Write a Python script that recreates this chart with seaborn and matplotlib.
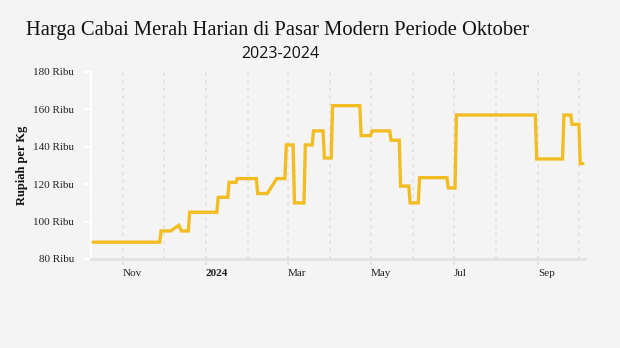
import matplotlib
matplotlib.use("Agg")
import matplotlib.pyplot as plt
import matplotlib.dates as mdates
import matplotlib.transforms as mtransforms
import seaborn as sns
import pandas as pd

# Breakpoints of the daily price series (thousand rupiah per kg)
dates = ["2023-10-10", "2023-11-28", "2023-11-29", "2023-12-06", "2023-12-12",
         "2023-12-14", "2023-12-19", "2023-12-20", "2024-01-09", "2024-01-10",
         "2024-01-17", "2024-01-18", "2024-01-23", "2024-01-24", "2024-02-07",
         "2024-02-08", "2024-02-15", "2024-02-22", "2024-02-28", "2024-02-29",
         "2024-03-05", "2024-03-06", "2024-03-13", "2024-03-14", "2024-03-19",
         "2024-03-20", "2024-03-27", "2024-03-28", "2024-04-02", "2024-04-03",
         "2024-04-23", "2024-04-24", "2024-05-01", "2024-05-02", "2024-05-15",
         "2024-05-16", "2024-05-22", "2024-05-23", "2024-05-29", "2024-05-30",
         "2024-06-05", "2024-06-06", "2024-06-26", "2024-06-27", "2024-07-02",
         "2024-07-03", "2024-08-30", "2024-08-31", "2024-09-19", "2024-09-20",
         "2024-09-25", "2024-09-26", "2024-10-01", "2024-10-02", "2024-10-04"]
prices = [89, 89, 95, 95, 98,
          95, 95, 105, 105, 113,
          113, 121, 121, 123, 123,
          115, 115, 123, 123, 141,
          141, 110, 110, 141, 141,
          148.5, 148.5, 134, 134, 162,
          162, 146, 146, 148.5, 148.5,
          143.5, 143.5, 119, 119, 110,
          110, 123.5, 123.5, 118, 118,
          157, 157, 133.5, 133.5, 157,
          157, 152, 152, 131, 131]

yticks = [80, 100, 120, 140, 160, 180]
ytick_labels = ["80 Ribu", "100 Ribu", "120 Ribu", "140 Ribu", "160 Ribu", "180 Ribu"]
xtick_dates = ["2023-11-01", "2024-01-01", "2024-03-01", "2024-05-01", "2024-07-01", "2024-09-01"]
xtick_labels = ["Nov", "2024", "Mar", "May", "Jul", "Sep"]
grid_months = pd.date_range("2023-11-01", "2024-10-01", freq="MS")

title_line1 = "Harga Cabai Merah Harian di Pasar Modern Periode Oktober"
title_line2 = "2023-2024"
ylabel = "Rupiah per Kg"

df = pd.DataFrame({"date": pd.to_datetime(dates), "price": prices})

bg = "#f4f4f4"
sns.set_theme(style="white")
plt.rcParams["font.family"] = ["Liberation Serif", "DejaVu Serif"]

fig = plt.figure(figsize=(6.2, 3.48), dpi=100, facecolor=bg)
ax = fig.add_axes([91/620, 1 - 259/348, (585 - 91)/620, (259 - 72)/348])
ax.set_facecolor(bg)

# grid lines at month starts
for d in grid_months:
    ax.axvline(d, color="#dedede", lw=1.1, ls=(0, (2, 3)), zorder=1)

sns.lineplot(data=df, x="date", y="price", ax=ax, color="#f2bd22",
             lw=2.4, zorder=3, solid_joinstyle="miter")

ax.set_ylim(80, 180)
ax.set_xlim(pd.Timestamp("2023-10-08 12:00"), pd.Timestamp("2024-10-05 12:00"))

ax.set_yticks(yticks)
ax.set_yticklabels(ytick_labels, fontsize=8, color="#222222")
ax.set_xticks(pd.to_datetime(xtick_dates))
ax.set_xticklabels(xtick_labels, fontsize=8, color="#222222")
for lbl in ax.get_xticklabels():
    lbl.set_ha("left")
    if lbl.get_text() == "2024":
        lbl.set_fontweight("bold")
offset = mtransforms.ScaledTranslation(3/100, 0, fig.dpi_scale_trans)
for lbl in ax.get_xticklabels():
    lbl.set_transform(lbl.get_transform() + offset)

ax.tick_params(axis="y", which="both", length=5, width=1.5, color="white", pad=7, left=True)
ax.tick_params(axis="x", which="both", length=4, width=1.1, color="#dcdcdc", pad=3, bottom=True)

for s in ["top", "right"]:
    ax.spines[s].set_visible(False)
ax.spines["left"].set_color("white")
ax.spines["left"].set_linewidth(1.5)
ax.spines["bottom"].set_color("#e2e2e2")
ax.spines["bottom"].set_linewidth(2)

ax.set_xlabel("")
ax.set_ylabel(ylabel, fontsize=9, fontweight="bold", color="#111111", labelpad=4)

fig.text(0.448, 1 - 30/348, title_line1, ha="center", va="center", fontsize=14.8,
         color="#111111", family=["Liberation Serif", "DejaVu Serif"])
fig.text(0.452, 1 - 54/348, title_line2, ha="center", va="center", fontsize=11.5,
         color="#111111", family=["Open Sans", "DejaVu Sans"])

fig.savefig("out.png", dpi=100, facecolor=bg)
